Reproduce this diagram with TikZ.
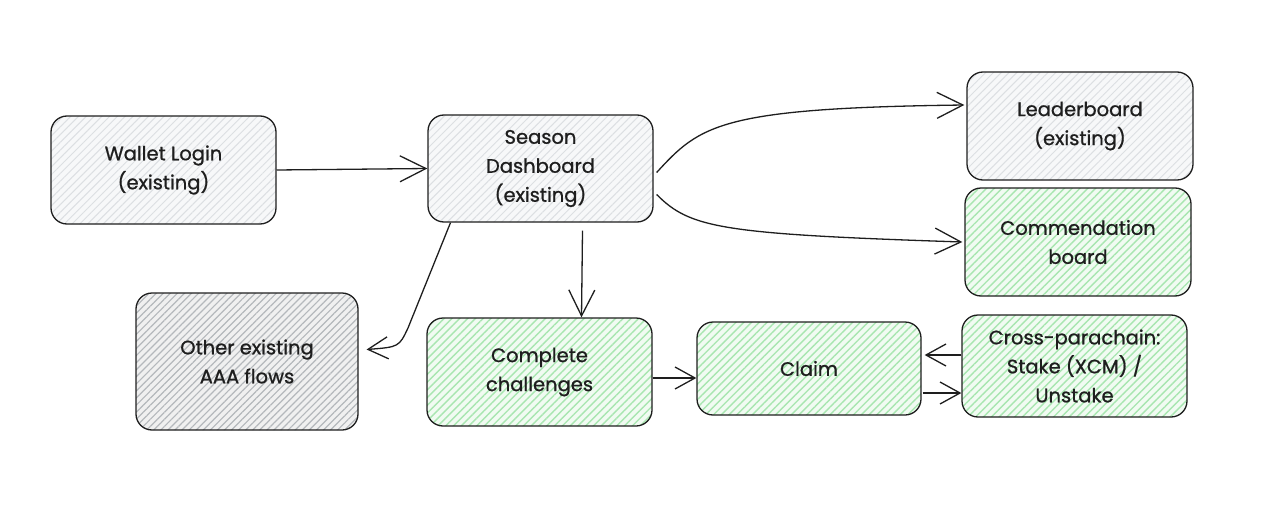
\documentclass[tikz,border=0pt]{standalone}
\usepackage{fontspec}
\setmainfont{Poppins}
\newfontfamily\handfont[FakeBold=0.9]{Poppins}
\usetikzlibrary{arrows.meta,patterns.meta,calc}
\definecolor{ink}{HTML}{1E1E1E}
\definecolor{greyfill}{HTML}{F7F8F9}
\definecolor{greyhatch}{HTML}{DCDFE2}
\definecolor{otherfill}{HTML}{F0F0F0}
\definecolor{darkhatch}{HTML}{B4B8BC}
\definecolor{greenfill}{HTML}{F1FBF2}
\definecolor{greenhatch}{HTML}{A8E6B0}
\tikzset{
  box/.style={draw=ink, line width=1.3pt, rounded corners=16pt, align=center,
    text=ink, font=\handfont\fontsize{19.5}{29}\selectfont, inner sep=0pt},
  oldbox/.style={box, preaction={fill=greyfill},
    pattern={Lines[angle=45,distance=5.5pt,line width=1pt]}, pattern color=greyhatch},
  otherbox/.style={box, preaction={fill=otherfill},
    pattern={Lines[angle=45,distance=5pt,line width=1.2pt]}, pattern color=darkhatch},
  newbox/.style={box, preaction={fill=greenfill},
    pattern={Lines[angle=45,distance=5.5pt,line width=1.4pt]}, pattern color=greenhatch},
  conn/.style={draw=ink, line width=1.3pt,
    -{Straight Barb[length=26pt,width=26pt,line width=1.3pt]}},
  shortconn/.style={conn, -{Straight Barb[length=20pt,width=22pt,line width=1.3pt]}},
}
\begin{document}
\begin{tikzpicture}[x=1pt,y=-1pt]
\useasboundingbox (0,0) rectangle (1262,506);
\node[oldbox, minimum width=225pt, minimum height=108pt] (wallet) at (163.5,170) {Wallet Login\\(existing)};
\node[oldbox, minimum width=225pt, minimum height=107pt] (season) at (540.5,168.5) {Season\\Dashboard\\(existing)};
\node[oldbox, minimum width=226pt, minimum height=108pt] (leader) at (1080,126) {Leaderboard\\(existing)};
\node[newbox, minimum width=226pt, minimum height=108pt] (commend) at (1078,242) {Commendation\\board};
\node[otherbox, minimum width=222pt, minimum height=137pt] (other) at (247,361.5) {Other existing\\AAA flows};
\node[newbox, minimum width=225pt, minimum height=108pt] (complete) at (539.5,372) {Complete\\challenges};
\node[newbox, minimum width=224pt, minimum height=93pt] (claim) at (809,368.5) {Claim};
\node[newbox, minimum width=225pt, minimum height=102pt] (cross) at (1074.5,366) {Cross-parachain:\\Stake (XCM) /\\Unstake};

\draw[conn] (wallet.east) -- (season.west);
\draw[conn] ([yshift=-4pt,xshift=3pt]season.east) .. controls (700,125) and (720,108) .. ([yshift=21pt,xshift=-2pt]leader.west);
\draw[conn] ([yshift=-26pt,xshift=3pt]season.east) .. controls (690,228) and (720,234) .. ([xshift=-2pt]commend.west);
\draw[conn] ([xshift=42pt,yshift=-8pt]season.south) -- ([xshift=42pt]complete.north);
\draw[shortconn] ([xshift=-90pt]season.south) -- (408,328) .. controls (399,347) .. ([xshift=8pt,yshift=12pt]other.east);
\draw[shortconn] ([yshift=-6pt]complete.east) -- ([yshift=-9.5pt]claim.west);
\draw[shortconn] ([yshift=11pt]cross.west) -- ([xshift=3pt,yshift=13.5pt]claim.east);
\draw[shortconn] ([xshift=1pt,yshift=-24.5pt]claim.east) -- ([yshift=-27pt]cross.west);
\end{tikzpicture}
\end{document}
